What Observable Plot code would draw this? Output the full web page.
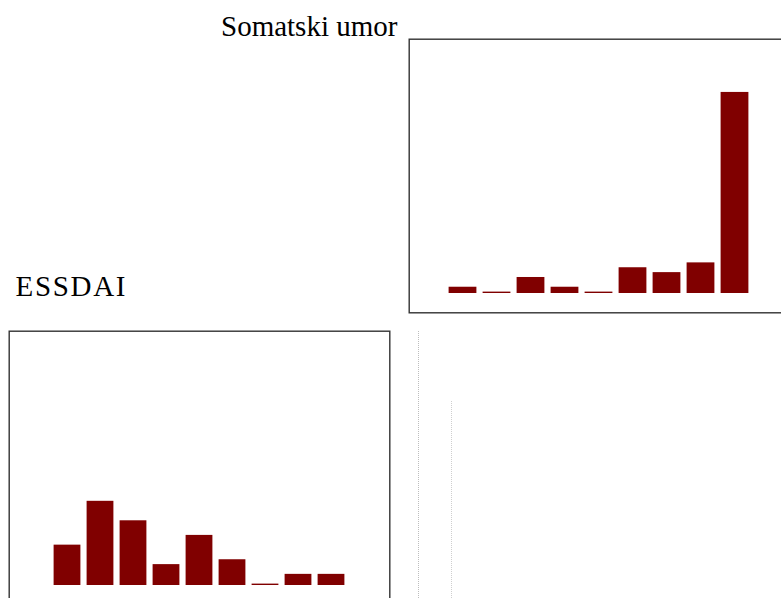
<!DOCTYPE html>
<html>
<head>
<meta charset="utf-8">
<script src="https://cdn.jsdelivr.net/npm/d3@7"></script>
<script src="https://cdn.jsdelivr.net/npm/@observablehq/plot@0.6"></script>
<style>
html, body { margin: 0; padding: 0; background: #fff; overflow: hidden; }
#root { position: relative; width: 781px; height: 598px; overflow: hidden; background: #fff; }
.panel { position: absolute; width: 382px; height: 275px; }
.panel svg { max-width: none !important; }
#overlay { position: absolute; left: 0; top: 0; }
.ttl { position: absolute; margin: 0; font-family: "Liberation Serif", Times, "Times New Roman", serif; font-size: 29px; line-height: 29px; color: #000; white-space: nowrap; font-weight: normal; }
</style>
</head>
<body>
<div id="root">
  <svg id="overlay" width="781" height="598">
    <line x1="418.5" y1="331" x2="418.5" y2="598" stroke="#bdbdbd" stroke-width="1" stroke-dasharray="1,1"/>
    <line x1="451.5" y1="401" x2="451.5" y2="598" stroke="#cfcfcf" stroke-width="1" stroke-dasharray="1,1"/>
  </svg>
  <div class="ttl" style="left:221px; top:11.7px;">Somatski umor</div>
  <div class="ttl" style="left:15.5px; top:271.7px; letter-spacing:1.7px;">ESSDAI</div>
</div>
<script>
// Bin categories (no axis labels shown in the reference)
const categories = ["1", "2", "3", "4", "5", "6", "7", "8", "9"];
// Counts per bin
const somatskiUmor = [1, 0, 3, 1, 0, 5, 4, 6, 41];
const essdai = [8, 17, 13, 4, 10, 5, 0, 2, 2];

const barColor = "#800000";
const unit = 4.87;
const base = 254.3;

function panel(values, xRange, left, top) {
  const data = categories.map((c, i) => ({bin: c, count: values[i]}));
  const chart = Plot.plot({
    width: 382,
    height: 275,
    margin: 0,
    style: {background: "transparent", overflow: "visible"},
    x: {type: "band", domain: categories, range: xRange, paddingInner: 0.2, paddingOuter: 0.1, axis: null},
    y: {domain: [0, 41], range: [base, base - 41 * unit], axis: null},
    marks: [
      Plot.barY(data, {x: "bin", y: "count", fill: barColor,
        insetTop: -0.7, insetBottom: -0.7, insetLeft: -0.4, insetRight: -0.4}),
      Plot.frame({stroke: "#333", strokeWidth: 1.4, inset: 0.7})
    ]
  });
  const div = document.createElement("div");
  div.className = "panel";
  div.style.left = left + "px";
  div.style.top = top + "px";
  div.appendChild(chart);
  document.getElementById("root").insertBefore(div, document.getElementById("overlay"));
}

panel(somatskiUmor, [35.5, 346.5], 408, 38);
panel(essdai, [41, 341.8], 8, 330);
</script>
</body>
</html>
